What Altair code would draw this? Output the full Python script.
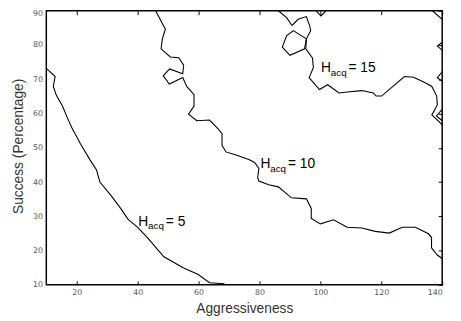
import altair as alt
import pandas as pd

# ---- axis ticks ----
x_ticks = [20, 40, 60, 80, 100, 120, 140]
y_ticks = [10, 20, 30, 40, 50, 60, 70, 80, 90]

# ---- H_acq = 5 contour ----
h5_x = [10.0, 12.9, 12.3, 13.3, 15.3, 16.9, 18.3, 21.2, 24.4, 26.5, 27.6, 31.4, 34.6,
        36.8, 40.0, 43.2, 48.6, 55.1, 59.9, 63.6, 68.5]
h5_y = [73.2, 70.8, 67.9, 65.3, 62.2, 58.8, 56.0, 51.2, 46.4, 43.5, 40.0, 35.9, 32.1,
        29.2, 26.8, 23.8, 18.2, 14.9, 13.0, 10.6, 10.3]

# ---- H_acq = 10 contour ----
h10_x = [45.9, 49.1, 48.1, 47.7, 50.7, 53.5, 55.1, 54.8, 50.5, 48.4, 50.4, 54.8, 56.1,
         58.5, 58.5, 56.7, 59.4, 63.6, 66.4, 67.7, 67.7, 69.0, 72.3, 76.5, 78.4, 79.8,
         79.4, 79.8, 83.0, 86.2, 90.5, 95.4, 97.0, 97.0, 100.0, 104.3, 108.8, 113.6,
         118.0, 122.6, 126.9, 131.2, 135.5, 136.5, 136.5, 138.4, 140.0]
h10_y = [90.0, 84.6, 81.8, 78.9, 76.5, 76.3, 74.1, 71.6, 73.0, 71.0, 68.6, 70.5, 67.9,
         65.5, 62.2, 59.8, 57.9, 58.1, 55.5, 54.1, 50.7, 48.8, 47.9, 46.6, 45.7, 44.0,
         41.3, 40.3, 39.2, 38.6, 35.4, 35.1, 32.3, 29.4, 27.8, 29.0, 26.8, 26.6, 25.6,
         25.1, 26.8, 26.8, 24.9, 23.8, 20.8, 18.7, 17.7]

# ---- H_acq = 15 contour (main path) ----
h15_x = [86.2, 88.9, 90.7, 92.7, 95.4, 96.5, 96.8, 95.4, 95.2, 97.4, 97.7, 96.3, 99.7,
         102.4, 106.1, 108.8, 113.6, 117.4, 118.3, 120.1, 127.6, 130.6, 134.6, 136.6,
         138.2, 138.4, 136.6, 139.7, 140.0]
h15_y = [90.0, 88.0, 85.7, 87.5, 88.3, 85.6, 84.2, 81.8, 78.9, 76.2, 73.4, 70.5, 67.0,
         68.4, 66.0, 66.3, 66.7, 66.0, 65.1, 65.1, 70.8, 70.6, 68.9, 67.9,
         65.1, 62.5, 59.6, 57.0, 56.6]
# small closed loop attached to the H=15 line
h15_loop_x = [95.4, 91.1, 88.9, 87.5, 90.0, 94.8, 95.4]
h15_loop_y = [81.8, 84.2, 82.7, 79.4, 77.0, 78.9, 81.8]
# small pieces touching the frame
h15_top_x = [98.6, 100.2, 101.8]
h15_top_y = [90.0, 88.5, 90.0]
h15_corner_x = [136.8, 140.0]
h15_corner_y = [90.0, 87.5]
h15_w1_x = [140.0, 138.4, 140.0]
h15_w1_y = [80.8, 79.7, 78.5]
h15_w2_x = [140.0, 138.4, 140.0]
h15_w2_y = [72.2, 70.5, 69.4]
h15_w3_x = [140.0, 138.1, 140.0]
h15_w3_y = [61.2, 59.3, 57.9]

# ---- contour labels ----
lab_x = [40.2, 80.3, 100.2]
lab_y = [27.3, 44.0, 72.0]
lab_eq = ["= 5", "= 10", "= 15"]

rows = []


def add(seg, xs, ys):
    for i, (a, b) in enumerate(zip(xs, ys)):
        rows.append({"seg": seg, "ord": i, "x": a, "y": b})


add("h5", h5_x, h5_y)
add("h10", h10_x, h10_y)
add("h15", h15_x, h15_y)
add("h15loop", h15_loop_x, h15_loop_y)
add("h15top", h15_top_x, h15_top_y)
add("h15corner", h15_corner_x, h15_corner_y)
add("h15w1", h15_w1_x, h15_w1_y)
add("h15w2", h15_w2_x, h15_w2_y)
add("h15w3", h15_w3_x, h15_w3_y)
lines_df = pd.DataFrame(rows)
lab_df = pd.DataFrame({"x": lab_x, "y": lab_y, "eq": lab_eq})

xs = alt.Scale(domain=[10, 140], nice=False, zero=False)
ys = alt.Scale(domain=[10, 90], nice=False, zero=False)

tick_font = "DejaVu Sans"
title_font = "Liberation Sans"

lines = alt.Chart(lines_df).mark_line(color="black", strokeWidth=1.1, clip=True).encode(
    x=alt.X("x:Q", scale=xs, axis=alt.Axis(
        orient="bottom", values=x_ticks, title="Aggressiveness", grid=False,
        domain=False, ticks=True, tickSize=4, tickColor="black", offset=-4,
        labelPadding=4, labelFont=tick_font, labelFontSize=8, labelColor="#555555",
        titleFont=title_font, titleFontSize=14, titleFontWeight="normal",
        titleColor="#333333", titleBaseline="alphabetic", titleY=32)),
    y=alt.Y("y:Q", scale=ys, axis=alt.Axis(
        orient="left", values=y_ticks, title="Success (Percentage)", grid=False,
        domain=False, ticks=False, labelPadding=4, labelFont=tick_font,
        labelFontSize=8, labelColor="#555555",
        labelOffset={"condition": {"test": "datum.value == 90", "value": 3}, "value": 0},
        titleFont=title_font,
        titleFontSize=14, titleFontWeight="normal", titleColor="#333333",
        titleBaseline="alphabetic", titleAngle=270, titleX=-24, titleY=137.5,
        titleAlign="center")),
    detail="seg:N",
    order="ord:Q",
)

frame_axes = alt.Chart(lab_df).mark_point(opacity=0).encode(
    x=alt.X("x:Q", scale=xs, axis=alt.Axis(
        orient="top", values=x_ticks, labels=False, title=None, domain=False,
        grid=False, tickSize=4, tickColor="black", offset=-4)),
    y=alt.Y("y:Q", scale=ys, axis=alt.Axis(
        orient="right", values=y_ticks, labels=False, title=None, domain=False,
        grid=False, tickSize=4, tickColor="black", offset=-4)),
)

base_txt = alt.Chart(lab_df).encode(
    x=alt.X("x:Q", scale=xs, axis=None),
    y=alt.Y("y:Q", scale=ys, axis=None),
)
t_h = base_txt.mark_text(text="H", font=title_font, fontSize=14, align="left",
                         baseline="alphabetic", color="black")
t_sub = base_txt.mark_text(text="acq", font=title_font, fontSize=10, align="left",
                           baseline="alphabetic", dx=10, dy=4, color="black")
t_eq = base_txt.mark_text(font=title_font, fontSize=14, align="left",
                          baseline="alphabetic", dx=28, color="black").encode(text="eq:N")

chart = alt.layer(lines, frame_axes, t_h, t_sub, t_eq).resolve_axis(
    x="independent", y="independent"
).properties(
    width=403, height=279,
    padding={"left": 39, "top": 0, "right": 11, "bottom": 34},
    autosize=alt.AutoSizeParams(type="none"),
).configure_view(stroke="black", strokeWidth=1.5)

chart.save("out.html", embed_options={"renderer": "svg", "actions": False})
